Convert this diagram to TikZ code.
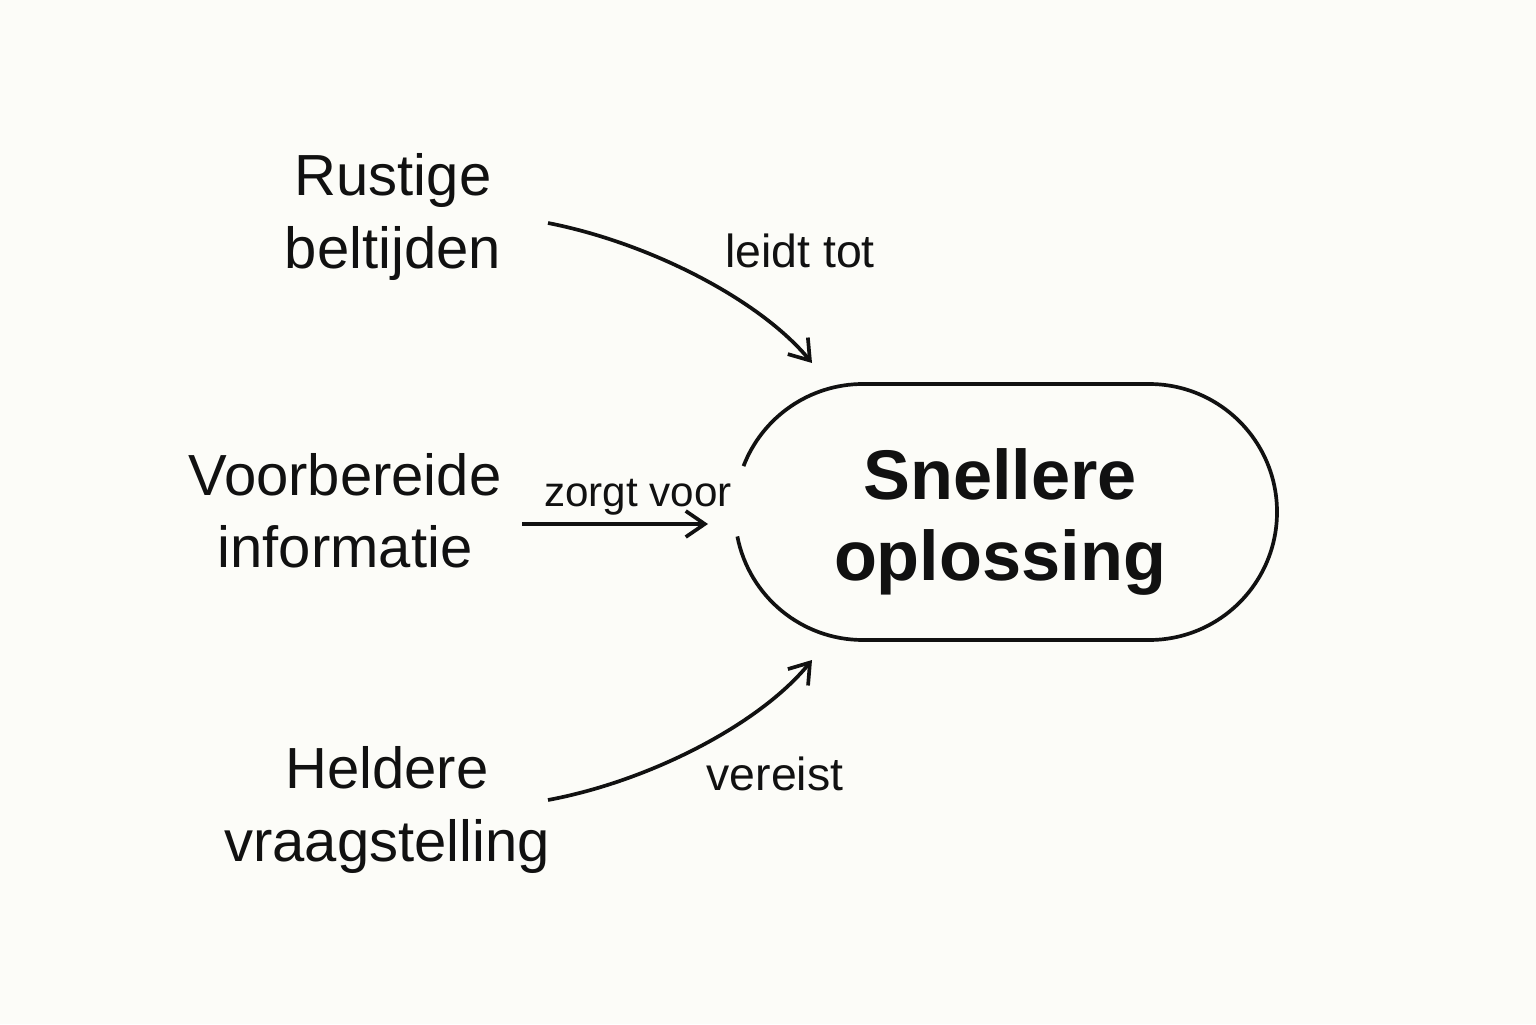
\documentclass[tikz,border=0pt]{standalone}
\usepackage{fontspec}
\setmainfont{Liberation Sans}
\usetikzlibrary{arrows.meta}
\definecolor{bgc}{RGB}{252,252,248}
\definecolor{ink}{RGB}{17,17,17}
\begin{document}
\begin{tikzpicture}[
  lbl/.style={text=ink, align=center, inner sep=0pt, font=\fontsize{16.5}{20.5}\selectfont},
  elbl/.style={text=ink, inner sep=0pt, font=\fontsize{13.2}{16}\selectfont},
  conn/.style={draw=ink, line width=1.05pt, -{Straight Barb[length=1.9mm,width=2.6mm,line width=1.05pt]}},
  outline/.style={draw=ink, line width=1.05pt}
]
\fill[bgc] (0,0) rectangle (15.36,10.24);
\useasboundingbox (0,0) rectangle (15.36,10.24);

% center node text
\node[text=ink, align=center, inner sep=0pt, font=\fontsize{20}{22.8}\selectfont\bfseries] (sol) at (10.00,5.02) {Snellere\\oplossing};
% stadium outline with gap on the left
\draw[outline] (8.63,5.12) ++(191:1.28) arc[start angle=191, end angle=270, radius=1.28]
  -- (11.49,3.84) arc[start angle=-90, end angle=90, radius=1.28]
  -- (8.63,6.40) arc[start angle=90, end angle=159, radius=1.28];

% source nodes
\node[lbl] (rust) at (3.93,8.07) {Rustige\\beltijden};
\node[lbl] (voor) at (3.45,5.13) {Voorbereide\\informatie};
\node[lbl] (held) at (3.87,2.14) {Heldere\\vraagstelling};

% connector end points
\coordinate (rs) at (5.48,8.01);
\coordinate (re) at (8.12,6.61);
\coordinate (vs) at (5.22,5.00);
\coordinate (ve) at (7.08,5.00);
\coordinate (hs) at (5.48,2.24);
\coordinate (he) at (8.12,3.64);

\draw[conn] (rs) .. controls (6.50,7.81) and (7.60,7.24) .. (re);
\draw[conn] (vs) -- (ve);
\draw[conn] (hs) .. controls (6.50,2.43) and (7.60,3.00) .. (he);

% edge labels
\node[elbl] (l1) at (8.00,7.73) {leidt tot};
\node[elbl, font=\fontsize{12}{14}\selectfont] (l2) at (6.38,5.27) {zorgt voor};
\node[elbl] (l3) at (7.75,2.50) {vereist};
\end{tikzpicture}
\end{document}
